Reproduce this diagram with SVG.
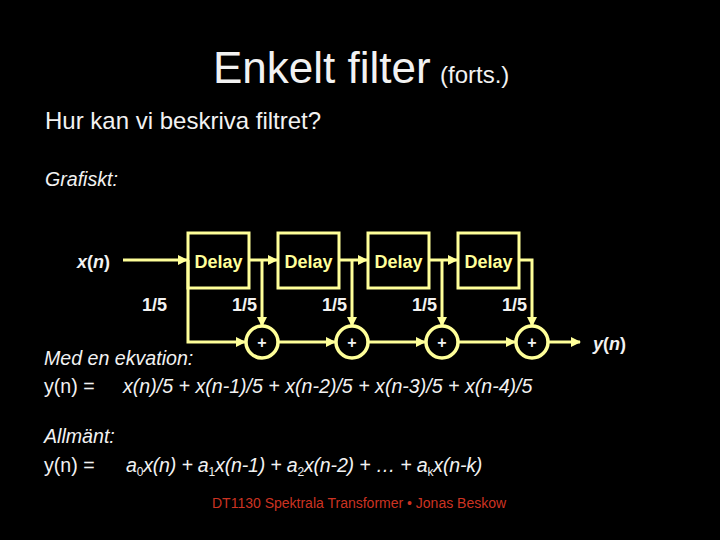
<svg xmlns="http://www.w3.org/2000/svg" width="720" height="540" viewBox="0 0 720 540">
<style>
  text { font-family: "Liberation Sans", Arial, sans-serif; fill: #f2f2f2; }
  .title { font-size: 44px; }
  .sub { font-size: 24px; }
  .body { font-size: 19.6px; }
  .it { font-style: italic; }
  .lab { font-size: 18px; font-weight: bold; }
  .dl { font-size: 18px; font-weight: bold; fill: #ffff99; text-anchor: middle; }
  .box { fill: none; stroke: #ffff99; stroke-width: 3; }
  .add { fill: none; stroke: #ffff99; stroke-width: 3.5; }
  .plus { font-size: 16px; font-weight: bold; text-anchor: middle; }
  .w { fill: none; stroke: #ffff99; stroke-width: 3; }
  .foot { font-size: 14px; fill: #cc3322; }
  .sb { font-size: 12px; font-style: normal; }
</style>
<defs>
  <marker id="ah" markerWidth="10" markerHeight="10" refX="9" refY="5" orient="auto" markerUnits="userSpaceOnUse">
    <path d="M0,0 L10,5 L0,10 Z" fill="#ffff99"/>
  </marker>
</defs>
<rect width="720" height="540" fill="#000"/>

<g id="title">
  <text x="213" y="83" class="title">Enkelt filter</text>
  <text x="440" y="83" class="sub">(forts.)</text>
</g>
<text x="45" y="129" class="sub">Hur kan vi beskriva filtret?</text>
<text x="45" y="186" class="body it">Grafiskt:</text>

<g id="connectors">
  <line x1="123" y1="260" x2="187" y2="260" class="w" marker-end="url(#ah)"/>
  <polyline points="188,260 188,342 245,342" class="w" marker-end="url(#ah)"/>
  <line x1="249" y1="260" x2="277" y2="260" class="w" marker-end="url(#ah)"/>
  <line x1="262" y1="260" x2="262" y2="326" class="w" marker-end="url(#ah)"/>
  <line x1="339" y1="260" x2="367" y2="260" class="w" marker-end="url(#ah)"/>
  <line x1="352" y1="260" x2="352" y2="326" class="w" marker-end="url(#ah)"/>
  <line x1="429" y1="260" x2="457" y2="260" class="w" marker-end="url(#ah)"/>
  <line x1="442" y1="260" x2="442" y2="326" class="w" marker-end="url(#ah)"/>
  <polyline points="519,260 532,260 532,326" class="w" marker-end="url(#ah)"/>
  <line x1="279" y1="342" x2="335" y2="342" class="w" marker-end="url(#ah)"/>
  <line x1="369" y1="342" x2="425" y2="342" class="w" marker-end="url(#ah)"/>
  <line x1="459" y1="342" x2="515" y2="342" class="w" marker-end="url(#ah)"/>
  <line x1="549" y1="342" x2="580" y2="342" class="w" marker-end="url(#ah)"/>
</g>

<g id="input"><text x="77" y="268" class="lab"><tspan class="it">x</tspan>(<tspan class="it">n</tspan>)</text></g>
<g id="output"><text x="593" y="350" class="lab"><tspan class="it">y</tspan>(<tspan class="it">n</tspan>)</text></g>

<g id="delay1"><rect x="188" y="233" width="61" height="55" class="box"/><text x="218.5" y="268" class="dl">Delay</text></g>
<g id="delay2"><rect x="278" y="233" width="61" height="55" class="box"/><text x="308.5" y="268" class="dl">Delay</text></g>
<g id="delay3"><rect x="368" y="233" width="61" height="55" class="box"/><text x="398.5" y="268" class="dl">Delay</text></g>
<g id="delay4"><rect x="458" y="233" width="61" height="55" class="box"/><text x="488.5" y="268" class="dl">Delay</text></g>

<g id="gains">
  <text x="142" y="311" class="lab">1/5</text>
  <text x="232" y="311" class="lab">1/5</text>
  <text x="322" y="311" class="lab">1/5</text>
  <text x="412" y="311" class="lab">1/5</text>
  <text x="502" y="311" class="lab">1/5</text>
</g>

<g id="adder1"><circle cx="262" cy="342" r="16" class="add"/><text x="262" y="348" class="plus">+</text></g>
<g id="adder2"><circle cx="352" cy="342" r="16" class="add"/><text x="352" y="348" class="plus">+</text></g>
<g id="adder3"><circle cx="442" cy="342" r="16" class="add"/><text x="442" y="348" class="plus">+</text></g>
<g id="adder4"><circle cx="532" cy="342" r="16" class="add"/><text x="532" y="348" class="plus">+</text></g>

<text x="44" y="365" class="body it">Med en ekvation:</text>
<text x="44" y="393" class="body">y(n) =</text>
<text x="123" y="393" class="body it">x(n)/5 + x(n-1)/5 + x(n-2)/5 + x(n-3)/5 + x(n-4)/5</text>

<text x="44" y="443" class="body it">Allmänt:</text>
<text x="44" y="472" class="body">y(n) =</text>
<text x="126" y="472" class="body it" letter-spacing="-0.2">a<tspan dy="4" class="sb">0</tspan><tspan dy="-4">x(n) + a</tspan><tspan dy="4" class="sb">1</tspan><tspan dy="-4">x(n-1) + a</tspan><tspan dy="4" class="sb">2</tspan><tspan dy="-4">x(n-2) + … + a</tspan><tspan dy="4" class="sb" font-style="italic">k</tspan><tspan dy="-4">x(n-k)</tspan></text>

<text x="212" y="508" class="foot">DT1130 Spektrala Transformer • Jonas Beskow</text>
</svg>
